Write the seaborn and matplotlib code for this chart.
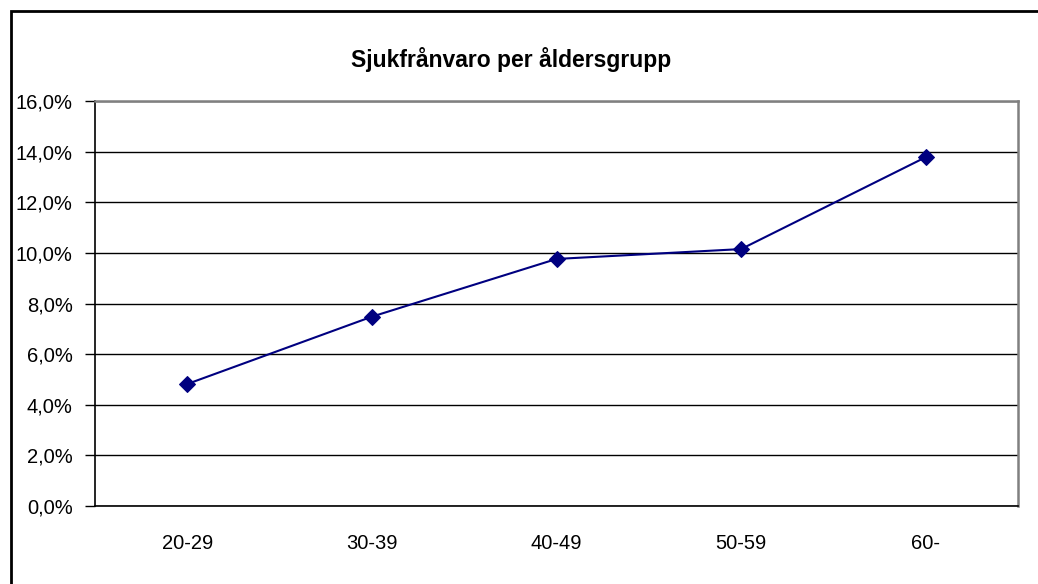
import matplotlib
matplotlib.use('Agg')
import matplotlib.pyplot as plt
from matplotlib.patches import Rectangle
from matplotlib.ticker import FuncFormatter, FixedLocator
import seaborn as sns
import pandas as pd

# Data
age_groups = ['20-29', '30-39', '40-49', '50-59', '60-']
absence_pct = [4.82, 7.48, 9.76, 10.15, 13.78]
title = 'Sjukfrånvaro per åldersgrupp'

df = pd.DataFrame({'age': age_groups, 'pct': absence_pct})

sns.set_style('white')
plt.rcParams['font.family'] = ['Liberation Sans', 'DejaVu Sans']
plt.rcParams['text.color'] = 'black'
plt.rcParams['xtick.color'] = 'black'
plt.rcParams['ytick.color'] = 'black'

fig = plt.figure(figsize=(10.38, 5.84), dpi=100)
ax = fig.add_axes([95 / 1038, 1 - 506 / 584, (1018 - 95) / 1038, (506 - 101) / 584])

sns.lineplot(data=df, x='age', y='pct', ax=ax, color='#000080', linewidth=1.5,
             marker='D', markersize=8, markeredgecolor='#000080', sort=False)

ax.set_ylim(0, 16)
ax.set_xlim(-0.5, len(age_groups) - 0.5)
ax.set_yticks(range(0, 17, 2))
ax.yaxis.set_major_formatter(FuncFormatter(lambda v, _: f'{v:.1f}%'.replace('.', ',')))
ax.grid(axis='y', color='black', linewidth=1)
ax.set_axisbelow(True)

ax.set_xlabel('')
ax.set_ylabel('')
ax.xaxis.set_minor_locator(FixedLocator([i - 0.5 for i in range(len(age_groups) + 1)]))
ax.tick_params(axis='x', which='major', length=0, pad=20, labelsize=14.5, labelcolor='black')
ax.tick_params(axis='x', which='minor', length=6, width=1, direction='out', color='black')
ax.tick_params(axis='y', length=7, width=1, direction='out', color='black', pad=9,
               labelsize=14.5, left=True, labelcolor='black')

for side in ['left', 'bottom']:
    ax.spines[side].set_color('black')
    ax.spines[side].set_linewidth(1.2)
for side in ['top', 'right']:
    ax.spines[side].set_color('#808080')
    ax.spines[side].set_linewidth(1.8)

fig.text(511 / 1038, 1 - 60 / 584, title, ha='center', va='center',
         fontsize=16.5, fontweight='bold', color='black')

fig.patches.append(Rectangle((11 / 1038, -0.1), 1.2, 1.1 - 11 / 584,
                             transform=fig.transFigure, fill=False,
                             edgecolor='black', linewidth=2))

fig.savefig('out.png', dpi=100)
